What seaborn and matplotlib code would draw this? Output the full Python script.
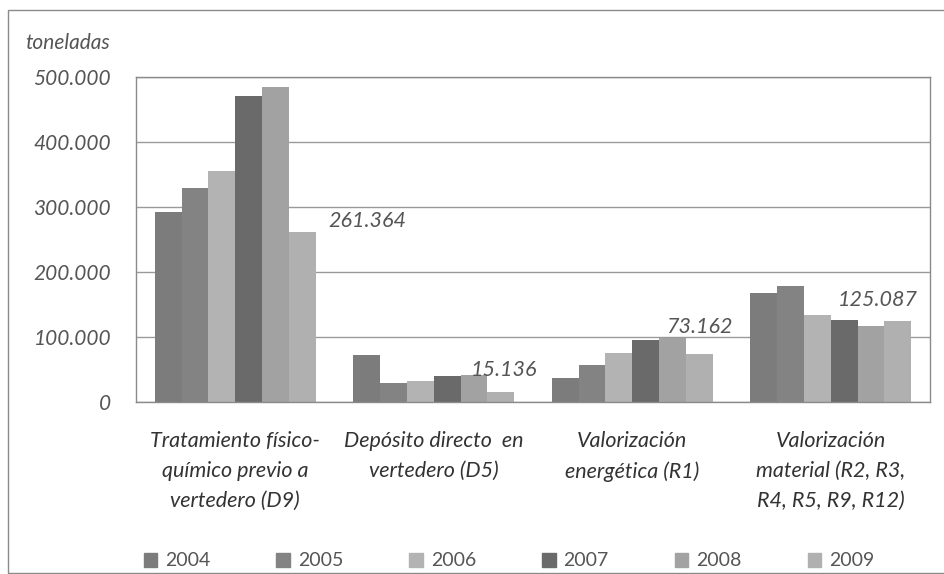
import pandas as pd
import matplotlib
matplotlib.use("Agg")
import matplotlib.pyplot as plt
import matplotlib.patches as mpatches
from matplotlib.ticker import FuncFormatter
import seaborn as sns

# Datos (toneladas)
categorias = [
    "Tratamiento físico-\nquímico previo a\nvertedero (D9)",
    "Depósito directo  en\nvertedero (D5)",
    "Valorización\nenergética (R1)",
    "Valorización\nmaterial (R2, R3,\nR4, R5, R9, R12)",
]
anios = ["2004", "2005", "2006", "2007", "2008", "2009"]
v_2004 = [292000, 72000, 37000, 167000]
v_2005 = [330000, 30000, 57000, 178000]
v_2006 = [356000, 33000, 75000, 134000]
v_2007 = [471000, 40000, 95000, 126000]
v_2008 = [484000, 41000, 98000, 117000]
v_2009 = [261364, 15136, 73162, 125087]
etiquetas_2009 = ["261.364", "15.136", "73.162", "125.087"]

colores = ["#7c7c7c", "#838383", "#b3b3b3", "#6a6a6a", "#a2a2a2", "#b0b0b0"]
TXT = "#555555"

series = [v_2004, v_2005, v_2006, v_2007, v_2008, v_2009]
df = pd.DataFrame(
    [(c, a, v) for a, vals in zip(anios, series) for c, v in zip(categorias, vals)],
    columns=["categoria", "anio", "toneladas"],
)

sns.set_theme(style="white")
plt.rcParams["font.family"] = ["Lato", "DejaVu Sans"]

fig = plt.figure(figsize=(9.44, 5.74), dpi=100)
ax = fig.add_axes([136 / 944, 1 - 402 / 574, (930 - 136) / 944, (402 - 77) / 574])

sns.barplot(data=df, x="categoria", y="toneladas", hue="anio", order=categorias,
            hue_order=anios, palette=colores, width=0.81, saturation=1,
            linewidth=0, ax=ax, legend=False)

ax.set_ylim(0, 500000)
ax.set_xlim(-0.5, 3.5)
ax.set_yticks(range(0, 500001, 100000))
ax.yaxis.set_major_formatter(FuncFormatter(lambda v, p: f"{int(v):,}".replace(",", ".")))
ax.grid(axis="y", color="#9a9a9a", linewidth=1)
ax.set_axisbelow(True)
for s in ax.spines.values():
    s.set_color("#8a8a8a")
    s.set_linewidth(1)
ax.set_xlabel("")
ax.set_ylabel("")
ax.tick_params(axis="both", length=0)
for lab in ax.get_yticklabels():
    lab.set_fontsize(15)
    lab.set_style("italic")
    lab.set_color(TXT)
ax.tick_params(axis="y", pad=18)
ax.set_xticks(range(len(categorias)))
ax.set_xticklabels(categorias, fontsize=15.5, style="italic", color="#333333",
                   linespacing=1.62)
ax.tick_params(axis="x", pad=21)

fig.text(25 / 944, 1 - 43 / 574, "toneladas", fontsize=15, style="italic",
         color=TXT, va="center", ha="left")

# etiquetas de 2009
barras_2009 = ax.containers[-1]
desplaz = [(65, 11), (3, 22), (0, 27), (-20, 21)]
for rect, txt, (dx, dy) in zip(barras_2009, etiquetas_2009, desplaz):
    ax.annotate(txt, (rect.get_x() + rect.get_width() / 2, rect.get_height()),
                xytext=(dx, dy), textcoords="offset pixels", ha="center",
                va="center", fontsize=15.5, style="italic", color=TXT)

handles = [mpatches.Patch(color=c, label=a) for c, a in zip(colores, anios)]
fig.legend(handles=handles, loc="center", bbox_to_anchor=(509 / 944, 1 - 561 / 574),
           ncol=6, frameon=False, fontsize=14, handlelength=0.7, handleheight=0.7,
           handletextpad=0.4, columnspacing=3.4, labelcolor=TXT, borderpad=0.1)

# marco exterior
fig.patches.append(mpatches.Rectangle((8 / 944, 1 / 574), 1.2, 563 / 574,
                                      transform=fig.transFigure, fill=False,
                                      edgecolor="#8a8a8a", linewidth=1))

fig.savefig("out.png", dpi=100)
